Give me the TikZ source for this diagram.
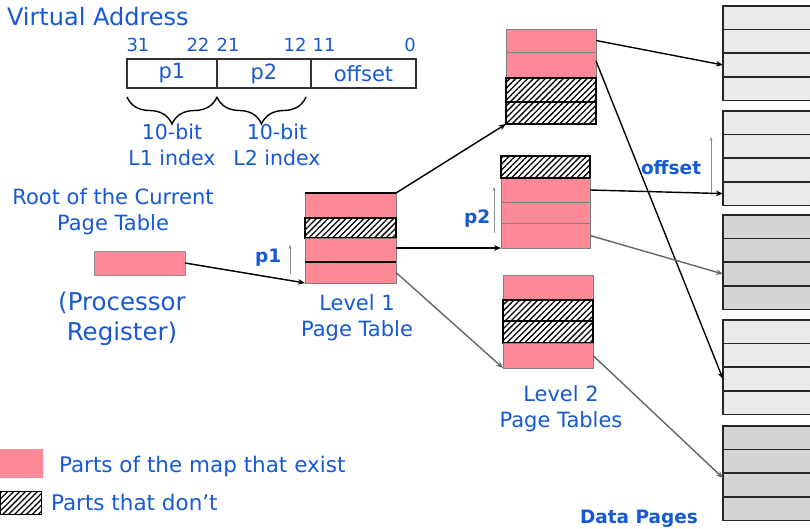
\documentclass[tikz,border=0pt]{standalone}
\usepackage{fontspec}
\setmainfont{DejaVu Sans}
\usetikzlibrary{arrows.meta}
\usetikzlibrary{patterns.meta}
\usetikzlibrary{decorations.pathreplacing}
\usetikzlibrary{positioning}

\definecolor{vablue}{RGB}{22,88,214}
\definecolor{mappink}{RGB}{255,137,150}
\definecolor{pagegray}{RGB}{212,212,212}
\definecolor{pagelight}{RGB}{233,233,233}

\newcommand{\fsz}[2]{\fontsize{#1}{#2}\selectfont}

\begin{document}
\begin{tikzpicture}[x=1pt, y=-1pt,
    every node/.style={inner sep=0pt, outer sep=0pt},
    lbl/.style={text=vablue, align=center, font=\fsz{21}{26}},
    idx/.style={text=vablue, font=\fsz{18.5}{22}\bfseries},
    slot/.style={minimum width=90pt, anchor=north west},
    exist/.style={slot, fill=mappink, draw=black!50, line width=0.9pt},
    absent/.style={slot, draw=black, line width=1.5pt,
      pattern={Lines[angle=45, distance=4.2pt, line width=1.3pt]}},
    datapage/.style={minimum width=110pt, minimum height=23.6pt, anchor=north west,
      draw=black!85, line width=1.5pt},
    solidpg/.style={datapage, fill=pagegray},
    dotpg/.style={datapage, preaction={fill=pagelight},
      pattern={Dots[radius=0.5pt, distance=4pt]}, pattern color=white},
    field/.style={draw=black!80, line width=1.3pt, minimum height=29pt, anchor=north west,
      text=vablue, font=\fsz{21}{26}},
    bitno/.style={text=vablue, font=\fsz{18}{22}, anchor=base},
    brc/.style={decorate, decoration={brace, mirror, amplitude=27pt}, line width=1.4pt},
    ptr/.style={-{Stealth[length=7pt, width=5.5pt]}, line width=1.4pt},
    gptr/.style={ptr, draw=black!60},
    upbar/.style={-{Stealth[length=4pt, width=3pt]}, draw=black!45, line width=0.8pt}
  ]
  \useasboundingbox (0,0) rectangle (810,529);
  \clip (0,0) rectangle (810,529);

  % virtual address and its fields
  \node[anchor=base west, text=vablue, font=\fsz{24}{28}] (va) at (7,26) {Virtual Address};
  \node[field, minimum width=90pt] (fp1) at (127,59) {p1};
  \node[field, minimum width=94pt, right=0pt of fp1] (fp2) {p2};
  \node[field, minimum width=105pt, right=0pt of fp2] (foff) {offset};
  \node[bitno] at (138,52) {31};
  \node[bitno] at (198,52) {22};
  \node[bitno] at (228,52) {21};
  \node[bitno] at (295,52) {12};
  \node[bitno] at (324,52) {11};
  \node[bitno] at (410,52) {0};
  \draw[brc] ([yshift=-9pt]fp1.south west) -- ([yshift=-9pt]fp1.south east);
  \draw[brc] ([yshift=-9pt]fp2.south west) -- ([yshift=-9pt, xshift=-5pt]fp2.south east);
  \node[lbl, font=\fsz{20.5}{26}, anchor=north] (l1idx) at (172,124) {10-bit\\L1 index};
  \node[lbl, font=\fsz{20.5}{26}, anchor=north] (l2idx) at (277,124) {10-bit\\L2 index};

  % root register
  \node[lbl, anchor=north] (rootlbl) at (113,189) {Root of the Current\\Page Table};
  \node[exist, minimum width=91pt, minimum height=24pt, draw=black!45] (reg) at (94,251) {};
  \node[lbl, font=\fsz{24.5}{30}, anchor=north] (proclbl) at (122,292) {(Processor\\Register)};

  % level 1 table
  \node[exist, minimum width=91pt, minimum height=25pt] (l1a) at (305,193) {};
  \node[absent, minimum width=91pt, minimum height=20pt, below=0pt of l1a] (l1b) {};
  \node[exist, minimum width=91pt, minimum height=24pt, below=0pt of l1b] (l1c) {};
  \node[exist, minimum width=91pt, minimum height=21pt, below=0pt of l1c] (l1d) {};
  \draw[line width=2pt] (l1a.north west) -- (l1a.north east);
  \draw[line width=1.5pt] (l1d.north west) -- (l1d.north east);
  \node[lbl, anchor=north] (l1lbl) at (357,295) {Level 1\\Page Table};

  % level 2 tables
  \node[exist, minimum height=23pt] (l2aa) at (506,29) {};
  \node[exist, minimum height=26pt, below=0pt of l2aa] (l2ab) {};
  \node[absent, minimum height=24pt, below=0pt of l2ab] (l2ac) {};
  \node[absent, minimum height=22pt, below=0pt of l2ac] (l2ad) {};

  \node[absent, minimum width=89pt, minimum height=22pt] (l2ba) at (501,156) {};
  \node[exist, minimum width=89pt, minimum height=24pt, below=0pt of l2ba] (l2bb) {};
  \node[exist, minimum width=89pt, minimum height=21pt, below=0pt of l2bb] (l2bc) {};
  \node[exist, minimum width=89pt, minimum height=25pt, below=0pt of l2bc] (l2bd) {};
  \draw[line width=1.5pt] (l2bb.north west) -- (l2bb.north east);

  \node[exist, minimum height=25pt] (l2ca) at (503,275) {};
  \node[absent, minimum height=21pt, below=0pt of l2ca] (l2cb) {};
  \node[absent, minimum height=22pt, below=0pt of l2cb] (l2cc) {};
  \node[exist, minimum height=25pt, below=0pt of l2cc] (l2cd) {};
  \node[lbl, anchor=north] (l2lbl) at (561,386) {Level 2\\Page Tables};

  % data pages
  \foreach \n/\top/\kind in {1/6/dotpg, 2/111/dotpg, 3/215/solidpg, 4/320/dotpg, 5/426/solidpg}
    \foreach \r [count=\k from 0] in {a,b,c,d}
      \node[\kind] (d\n\r) at (723,{\top+\k*23.6}) {};
  \node[idx, anchor=base west] (dplbl) at (580,523) {Data Pages};

  % index marks
  \node[idx, anchor=base west] (p1lbl) at (255,262) {p1};
  \node[idx, anchor=base west] (p2lbl) at (464,223) {p2};
  \node[idx, anchor=base west] (offlbl) at (641,175) {offset};
  \draw[upbar] (290,274) -- (290,245);
  \draw[upbar] (494,233) -- (494,187);
  \draw[upbar] (711,195) -- (711,137);

  % pointers
  \draw[ptr] (reg.east) -- (l1d.south west);
  \draw[ptr] (l1a.north east) -- (l2ad.south west);
  \draw[ptr] (l1c.east |- l2bd.south west) -- (l2bd.south west);
  \draw[gptr] (l1d.east) -- (l2cd.south west);
  \draw[ptr] (l2aa.east) -- (d1c.west);
  \draw[ptr] ([yshift=4pt]l2ab.east) -- (d4c.west);
  \draw[ptr] (l2bb.east) -- (d2d.west);
  \draw[gptr] (l2bd.east) -- (d3c.west);
  \draw[gptr] (l2cd.east) -- ([yshift=7pt]d5c.west);

  % key
  \node[slot, fill=mappink, minimum width=43pt, minimum height=29pt] (keyok) at (0,449) {};
  \node[lbl, font=\fsz{21.5}{26}, anchor=base west] (keyoklbl) at (59,472) {Parts of the map that exist};
  \node[absent, minimum width=41pt, minimum height=23pt, line width=1pt] (keyno) at (0,491) {};
  \node[lbl, font=\fsz{21.5}{26}, anchor=base west] (keynolbl) at (51,510) {Parts that don’t};
\end{tikzpicture}
\end{document}
